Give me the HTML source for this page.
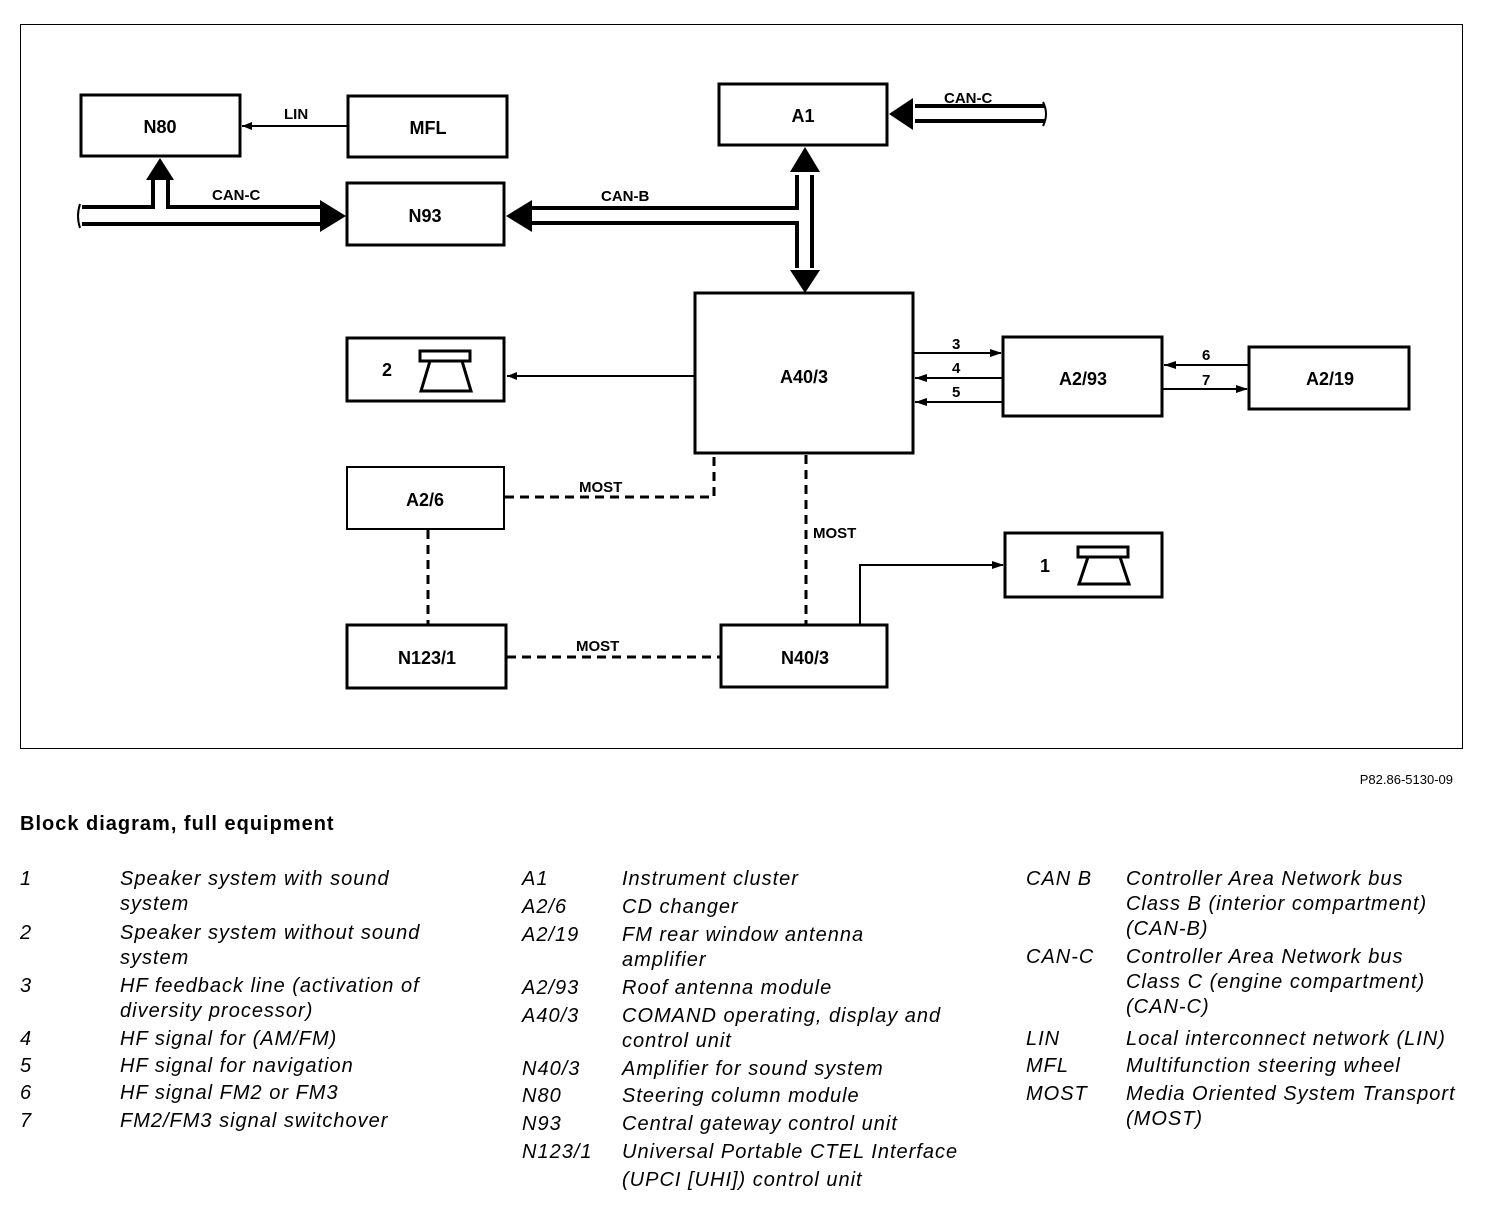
<!DOCTYPE html>
<html><head><meta charset="utf-8"><style>
body{margin:0;background:#fff}
svg{display:block}
.b{font-family:"Liberation Sans",sans-serif;font-weight:bold;font-size:18px}
.l{font-family:"Liberation Sans",sans-serif;font-style:italic;font-size:20px;letter-spacing:1px}
</style></head><body>
<svg width="1504" height="1214" viewBox="0 0 1504 1214" xmlns="http://www.w3.org/2000/svg">
<rect x="20.5" y="24.5" width="1442" height="724" fill="none" stroke="#000" stroke-width="1"/>
<g fill="none" stroke="#000" stroke-width="3">
<rect x="81" y="95" width="159" height="61"/>
<rect x="348" y="96" width="159" height="61"/>
<rect x="347" y="183" width="157" height="62"/>
<rect x="719" y="84" width="168" height="61"/>
<rect x="695" y="293" width="218" height="160"/>
<rect x="1003" y="337" width="159" height="79"/>
<rect x="1249" y="347" width="160" height="62"/>
<rect x="347" y="338" width="157" height="63"/>
<rect x="347" y="467" width="157" height="62" stroke-width="2"/>
<rect x="347" y="625" width="159" height="63"/>
<rect x="721" y="625" width="166" height="62"/>
<rect x="1005" y="533" width="157" height="64"/>
</g>
<g fill="none" stroke="#000" stroke-width="3">
<rect x="420" y="351" width="50" height="10"/>
<path d="M430 361 L421 391 L471 391 L462 361"/>
<rect x="1078" y="547" width="50" height="10"/>
<path d="M1088 557 L1079 584 L1129 584 L1120 557"/>
</g>
<g fill="none" stroke="#000" stroke-width="4">
<path d="M82 207 H153 V178"/>
<path d="M168 178 V207 H322"/>
<path d="M82 224 H322"/>
<path d="M530 208 H797 V175"/>
<path d="M530 223 H797 V268"/>
<path d="M812 175 V268"/>
<path d="M915 106 H1045"/>
<path d="M915 121 H1045"/>
</g>
<g fill="#000">
<path d="M146 180 L160 158 L174 180Z"/>
<path d="M320 200 L346 216 L320 232Z"/>
<path d="M532 200 L506 216 L532 232Z"/>
<path d="M790 172 L805 147 L820 172Z"/>
<path d="M790 270 L805 293 L820 270Z"/>
<path d="M913 98 L889 114 L913 130Z"/>
</g>
<g fill="none" stroke="#000" stroke-width="2">
<path d="M80 204 q-4 12 0 24"/>
<path d="M1043 102 q6 12 0 24"/>
<path d="M348 126 H242"/>
<path d="M695 376 H507"/>
<path d="M913 353 H1001"/>
<path d="M1003 378 H915"/>
<path d="M1003 402 H915"/>
<path d="M1249 365 H1164"/>
<path d="M1162 389 H1247"/>
<path d="M860 625 V565 H1003"/>
</g>
<g fill="#000">
<path d="M242 126 l10 -4 v8z"/>
<path d="M507 376 l10 -4 v8z"/>
<path d="M1002 353 l-12 -4 v8z"/>
<path d="M915 378 l12 -4 v8z"/>
<path d="M915 402 l12 -4 v8z"/>
<path d="M1164 365 l12 -4 v8z"/>
<path d="M1248 389 l-12 -4 v8z"/>
<path d="M1004 565 l-12 -4 v8z"/>
</g>
<g fill="none" stroke="#000" stroke-width="3" stroke-dasharray="9,6">
<path d="M505 497 H714 V455"/>
<path d="M806 455 V624"/>
<path d="M428 530 V624"/>
<path d="M507 657 H720"/>
</g>
<g class="b" text-anchor="middle">
<text x="160" y="133">N80</text>
<text x="428" y="134">MFL</text>
<text x="425" y="222">N93</text>
<text x="803" y="122">A1</text>
<text x="804" y="383">A40/3</text>
<text x="1083" y="385">A2/93</text>
<text x="1330" y="385">A2/19</text>
<text x="425" y="506">A2/6</text>
<text x="427" y="664">N123/1</text>
<text x="805" y="664">N40/3</text>
<text x="387" y="376">2</text>
<text x="1045" y="572">1</text>
</g>
<g class="b" style="font-size:15px">
<text x="284" y="119">LIN</text>
<text x="212" y="200">CAN-C</text>
<text x="601" y="201">CAN-B</text>
<text x="944" y="103">CAN-C</text>
<text x="952" y="349">3</text>
<text x="952" y="373">4</text>
<text x="952" y="397">5</text>
<text x="1202" y="360">6</text>
<text x="1202" y="385">7</text>
<text x="579" y="492">MOST</text>
<text x="813" y="538">MOST</text>
<text x="576" y="651">MOST</text>
</g>
<text x="1453" y="784" text-anchor="end" style="font-family:'Liberation Sans',sans-serif;font-size:13px">P82.86-5130-09</text>
<text x="20" y="830" style="font-family:'Liberation Sans',sans-serif;font-weight:bold;font-size:20px;letter-spacing:1px">Block diagram, full equipment</text>
<g class="l">
<text x="20" y="885">1</text><text x="120" y="885">Speaker system with sound</text><text x="120" y="910">system</text>
<text x="20" y="939">2</text><text x="120" y="939">Speaker system without sound</text><text x="120" y="964">system</text>
<text x="20" y="992">3</text><text x="120" y="992">HF feedback line (activation of</text><text x="120" y="1017">diversity processor)</text>
<text x="20" y="1045">4</text><text x="120" y="1045">HF signal for (AM/FM)</text>
<text x="20" y="1072">5</text><text x="120" y="1072">HF signal for navigation</text>
<text x="20" y="1099">6</text><text x="120" y="1099">HF signal FM2 or FM3</text>
<text x="20" y="1127">7</text><text x="120" y="1127">FM2/FM3 signal switchover</text>

<text x="522" y="885">A1</text><text x="622" y="885">Instrument cluster</text>
<text x="522" y="913">A2/6</text><text x="622" y="913">CD changer</text>
<text x="522" y="941">A2/19</text><text x="622" y="941">FM rear window antenna</text><text x="622" y="966">amplifier</text>
<text x="522" y="994">A2/93</text><text x="622" y="994">Roof antenna module</text>
<text x="522" y="1022">A40/3</text><text x="622" y="1022">COMAND operating, display and</text><text x="622" y="1047">control unit</text>
<text x="522" y="1075">N40/3</text><text x="622" y="1075">Amplifier for sound system</text>
<text x="522" y="1102">N80</text><text x="622" y="1102">Steering column module</text>
<text x="522" y="1130">N93</text><text x="622" y="1130">Central gateway control unit</text>
<text x="522" y="1158">N123/1</text><text x="622" y="1158">Universal Portable CTEL Interface</text><text x="622" y="1186">(UPCI [UHI]) control unit</text>

<text x="1026" y="885">CAN B</text><text x="1126" y="885">Controller Area Network bus</text><text x="1126" y="910">Class B (interior compartment)</text><text x="1126" y="935">(CAN-B)</text>
<text x="1026" y="963">CAN-C</text><text x="1126" y="963">Controller Area Network bus</text><text x="1126" y="988">Class C (engine compartment)</text><text x="1126" y="1013">(CAN-C)</text>
<text x="1026" y="1045">LIN</text><text x="1126" y="1045">Local interconnect network (LIN)</text>
<text x="1026" y="1072">MFL</text><text x="1126" y="1072">Multifunction steering wheel</text>
<text x="1026" y="1100">MOST</text><text x="1126" y="1100">Media Oriented System Transport</text><text x="1126" y="1125">(MOST)</text>
</g>
</svg>
</body></html>
